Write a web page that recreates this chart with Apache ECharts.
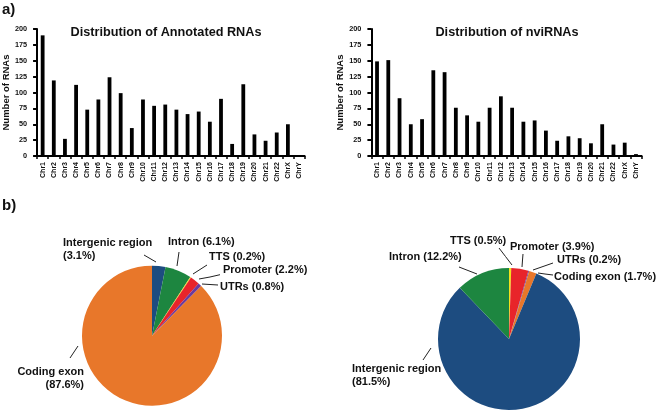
<!DOCTYPE html>
<html>
<head>
<meta charset="utf-8">
<script src="https://cdn.jsdelivr.net/npm/echarts@6/dist/echarts.min.js"></script>
<style>
html,body{margin:0;padding:0;background:#fff;}
#chart{width:660px;height:413px;}
</style>
</head>
<body>
<div id="chart"></div>
<script>
// ---- data ----
var chromosomes = ['Chr1','Chr2','Chr3','Chr4','Chr5','Chr6','Chr7','Chr8','Chr9','Chr10','Chr11','Chr12','Chr13','Chr14','Chr15','Chr16','Chr17','Chr18','Chr19','Chr20','Chr21','Chr22','ChrX','ChrY'];
var annotatedCounts = [190,119,27,112,73,89,124,99,44,89,79,81,73,66,70,54,90,19,113,34,24,37,50,1.5];
var nviCounts = [149,151,91,50,58,135,132,76,64,54,76,94,76,54,56,40,24,31,28,20,50,18,21,3];
var yTicks = [0,25,50,75,100,125,150,175,200];

var annotatedRegionNames = ['Intergenic region','Intron','TTS','Promoter','UTRs','Coding exon'];
var annotatedRegionPct = [3.1,6.1,0.2,2.2,0.8,87.6];
var nviRegionNames = ['TTS','Promoter','UTRs','Coding exon','Intergenic region','Intron'];
var nviRegionPct = [0.5,3.9,0.2,1.7,81.5,12.2];

var regionColors = {
  'Intergenic region':'#1d4c80',
  'Intron':'#1d8640',
  'TTS':'#f2e21c',
  'Promoter':'#e8242a',
  'UTRs':'#6a3a9e',
  'Coding exon':'#e8772a'
};

// ---- layout (label placement) ----
var FONT = '"Liberation Sans", Arial, sans-serif';
var leftLabelLayout = {
  'Intergenic region': {x:63, y:236, align:'left', va:'top', wrap:true, line:[[156,262],[150,258.5],[144,255]]},
  'Intron': {x:168, y:242, align:'left', va:'middle', line:[[177,266],[178,259],[179,252]]},
  'TTS': {x:209, y:256.7, align:'left', va:'middle', line:[[193,274],[200,269.5],[207,265]]},
  'Promoter': {x:223, y:270, align:'left', va:'middle', line:[[199,279],[210,277],[220,274.7]]},
  'UTRs': {x:220, y:286.7, align:'left', va:'middle', line:[[202,284],[210,284.5],[218,285]]},
  'Coding exon': {x:84, y:365.2, align:'right', va:'top', wrap:true, line:[[78,346],[74,352],[70,358]]}
};
var rightLabelLayout = {
  'TTS': {x:450, y:241, align:'left', va:'middle', line:[[512,265],[505.5,256.5],[499,248]]},
  'Promoter': {x:510, y:247, align:'left', va:'middle', line:[[522,267],[522.5,260],[523,254]]},
  'UTRs': {x:557, y:260, align:'left', va:'middle', line:[[533,270],[543,266.5],[553,263]]},
  'Coding exon': {x:554, y:276.7, align:'left', va:'middle', line:[[538,273],[545,274],[553,275]]},
  'Intron': {x:389, y:257, align:'left', va:'middle', line:[[477,274],[468,270.5],[459,267]]},
  'Intergenic region': {x:352, y:362.5, align:'left', va:'top', wrap:true, line:[[431,348],[427,354],[423,360]]}
};

function pieData(names, vals){
  return names.map(function(n,i){ return {name:n, value:vals[i], itemStyle:{color:regionColors[n]}}; });
}
function makeFormatter(layout){
  return function(p){
    var L = layout[p.name];
    return p.name + (L && L.wrap ? '\n' : ' ') + '(' + p.value.toFixed(1) + '%)';
  };
}
function makeLabelLayout(layout, names){
  return function(params){
    var L = layout[names[params.dataIndex]];
    return {x:L.x, y:L.y, align:L.align, verticalAlign:L.va, width:200, labelLinePoints:L.line};
  };
}

function barAxisX(gridIndex){
  return {
    type:'category', gridIndex:gridIndex, data:chromosomes, boundaryGap:true,
    axisLine:{lineStyle:{color:'#000', width:2}},
    axisTick:{show:true, length:3, lineStyle:{color:'#000', width:1.5}},
    axisLabel:{interval:0, rotate:90, fontSize:7, fontWeight:'bold', fontFamily:FONT, color:'#111', margin:6}
  };
}
function barAxisY(gridIndex){
  return {
    type:'value', gridIndex:gridIndex, min:yTicks[0], max:yTicks[yTicks.length-1], interval:yTicks[1]-yTicks[0],
    name:'Number of RNAs', nameLocation:'middle', nameGap:24,
    nameTextStyle:{fontSize:9.5, fontWeight:'bold', fontFamily:FONT, color:'#111'},
    axisLine:{show:true, lineStyle:{color:'#000', width:2}},
    axisTick:{show:true, length:4, lineStyle:{color:'#000', width:2}},
    axisLabel:{fontSize:7.3, fontWeight:'bold', fontFamily:FONT, color:'#111', margin:10},
    splitLine:{show:false}
  };
}

var pieLabelStyle = function(layout){
  return {show:true, position:'outside', formatter:makeFormatter(layout), overflow:'none', fontSize:11, fontWeight:'bold', fontFamily:FONT, color:'#111', lineHeight:13};
};

var chart = echarts.init(document.getElementById('chart'), null, {renderer:'canvas'});
chart.setOption({
  animation:false,
  backgroundColor:'#fff',
  graphic:[
    {type:'text', x:2, y:10, style:{text:'a)', font:'bold 15px '+FONT, fill:'#111', align:'left', verticalAlign:'middle'}},
    {type:'text', x:2, y:206, style:{text:'b)', font:'bold 15px '+FONT, fill:'#111', align:'left', verticalAlign:'middle'}},
    {type:'text', x:166, y:32, style:{text:'Distribution of Annotated RNAs', font:'bold 12.7px '+FONT, fill:'#111', align:'center', verticalAlign:'middle'}},
    {type:'text', x:507, y:32, style:{text:'Distribution of nviRNAs', font:'bold 12.7px '+FONT, fill:'#111', align:'center', verticalAlign:'middle'}}
  ],
  grid:[
    {left:34.4, width:270.2, top:29, bottom:257},
    {left:371.4, width:270.2, top:29, bottom:257}
  ],
  xAxis:[barAxisX(0), barAxisX(1)],
  yAxis:[barAxisY(0), barAxisY(1)],
  series:[
    {type:'bar', xAxisIndex:0, yAxisIndex:0, data:annotatedCounts, barWidth:3.8, itemStyle:{color:'#000'}},
    {type:'bar', xAxisIndex:1, yAxisIndex:1, data:nviCounts, barWidth:3.8, itemStyle:{color:'#000'}},
    {
      type:'pie', center:[152,335.7], radius:70, startAngle:90, clockwise:true,
      data:pieData(annotatedRegionNames, annotatedRegionPct),
      label:pieLabelStyle(leftLabelLayout),
      labelLine:{show:true, lineStyle:{color:'#222', width:1}},
      labelLayout:makeLabelLayout(leftLabelLayout, annotatedRegionNames),
      emphasis:{disabled:true}
    },
    {
      type:'pie', center:[509,339], radius:71, startAngle:90, clockwise:true,
      data:pieData(nviRegionNames, nviRegionPct),
      label:pieLabelStyle(rightLabelLayout),
      labelLine:{show:true, lineStyle:{color:'#222', width:1}},
      labelLayout:makeLabelLayout(rightLabelLayout, nviRegionNames),
      emphasis:{disabled:true}
    }
  ]
});
</script>
</body>
</html>
